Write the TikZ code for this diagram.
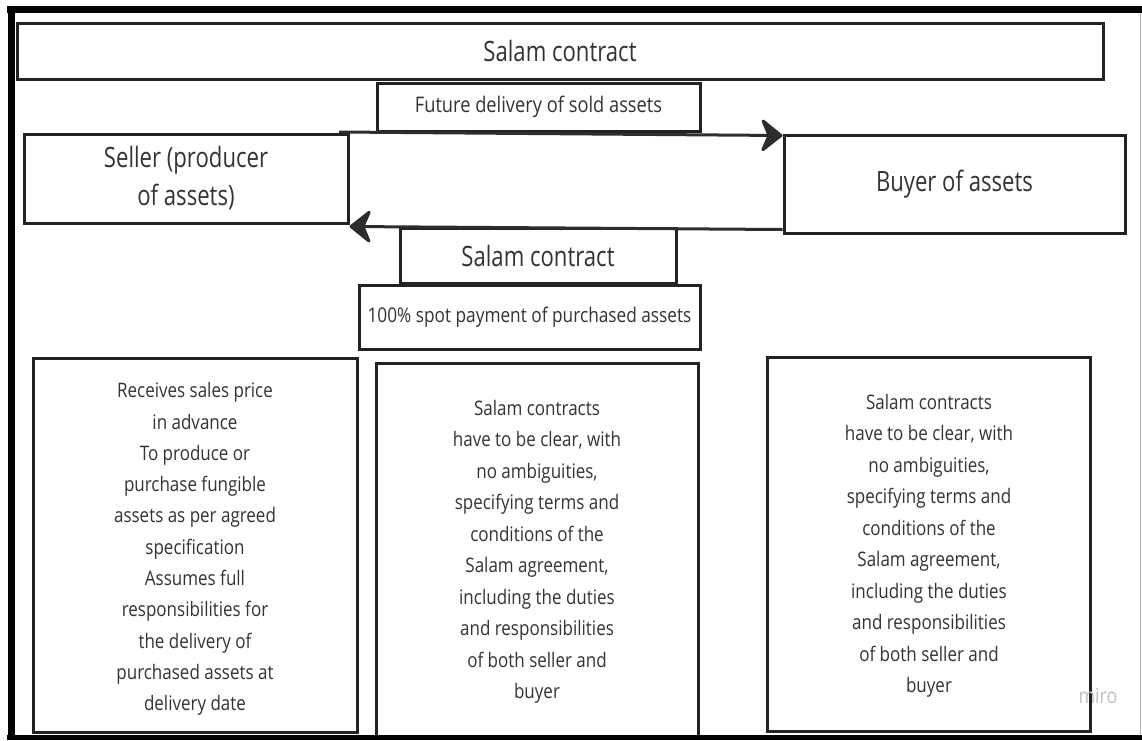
\documentclass[tikz,border=0pt]{standalone}
\usepackage{fontspec}
\setmainfont{Open Sans}[FakeStretch=0.85]
\newfontfamily\bigfam{Open Sans}[FakeStretch=0.79]
\usetikzlibrary{arrows.meta}
\definecolor{ink}{HTML}{222222}
\definecolor{txt}{HTML}{333333}
\begin{document}
\begin{tikzpicture}[x=1pt,y=-1pt,
  box/.style={draw=ink, line width=3pt, inner sep=0pt, text=txt, align=center},
  big/.style={font=\bigfam\fontsize{28}{38}\selectfont},
  mid/.style={font=\fontsize{21.5}{26}\selectfont},
  body/.style={text=txt, align=center, inner sep=0pt},
  arr/.style={draw=ink!95, line width=3pt, -{Stealth[length=24pt,width=38pt,inset=8pt,line join=round]}}
]
\useasboundingbox (0,0) rectangle (1142,740);
\fill[white] (0,0) rectangle (1142,740);
% boxes
\node[box, big, minimum width=1086pt, minimum height=56pt] (title) at (560,51) {Salam contract};
\node[box, mid, minimum width=323pt, minimum height=48pt] (future) at (538.5,107) {Future delivery of sold assets};
\node[box, big, minimum width=324pt, minimum height=89pt] (seller) at (186,178.5) {Seller (producer\\of assets)};
\node[box, big, minimum width=341pt, minimum height=98pt] (buyer) at (954.5,184) {Buyer of assets};
\node[box, big, minimum width=276pt, minimum height=55pt] (contract) at (538,255.5) {Salam contract};
\node[box, font=\fontsize{20.3}{26}\selectfont, minimum width=341pt, minimum height=64pt] (spot) at (529.5,317) {100\% spot payment of purchased assets};
\node[box, minimum width=324pt, minimum height=374pt] (lbox) at (195,545) {};
\node[box, minimum width=322pt, minimum height=373pt] (mbox) at (537,549.5) {};
\node[box, minimum width=323pt, minimum height=374pt] (rbox) at (928.5,544) {};
% texts
\node[body, font=\fontsize{20}{31.3}\selectfont] (ltext) at (195,549) {Receives sales price\\in advance\\To produce or\\purchase fungible\\assets as per agreed\\specification\\Assumes full\\responsibilities for\\the delivery of\\purchased assets at\\delivery date};
\node[body, font=\fontsize{20}{31.5}\selectfont] (mtext) at (537,552) {Salam contracts\\have to be clear, with\\no ambiguities,\\specifying terms and\\conditions of the\\Salam agreement,\\including the duties\\and responsibilities\\of both seller and\\buyer};
\node[body, font=\fontsize{20}{31.5}\selectfont] (rtext) at (929,546) {Salam contracts\\have to be clear, with\\no ambiguities,\\specifying terms and\\conditions of the\\Salam agreement,\\including the duties\\and responsibilities\\of both seller and\\buyer};
\node[text=gray!50, inner sep=0pt, font=\fontsize{21}{21}\selectfont] (miro) at (1098,696) {miro};
% arrows
\coordinate (s1) at (339,132);
\draw[arr] (s1) -- ([yshift=-2pt]buyer.north west);
\draw[arr] ([yshift=5pt]buyer.south west) -- ([yshift=-2pt]seller.south east);
% frame
\draw[line width=7pt] (7,9.5) -- (1142,9.5);
\draw[line width=7pt] (11,6) -- (11,740);
\draw[line width=5pt] (7,737.5) -- (1142,737.5);
\draw[gray!60, line width=1pt] (1140,13) -- (1140,735);
\end{tikzpicture}
\end{document}
